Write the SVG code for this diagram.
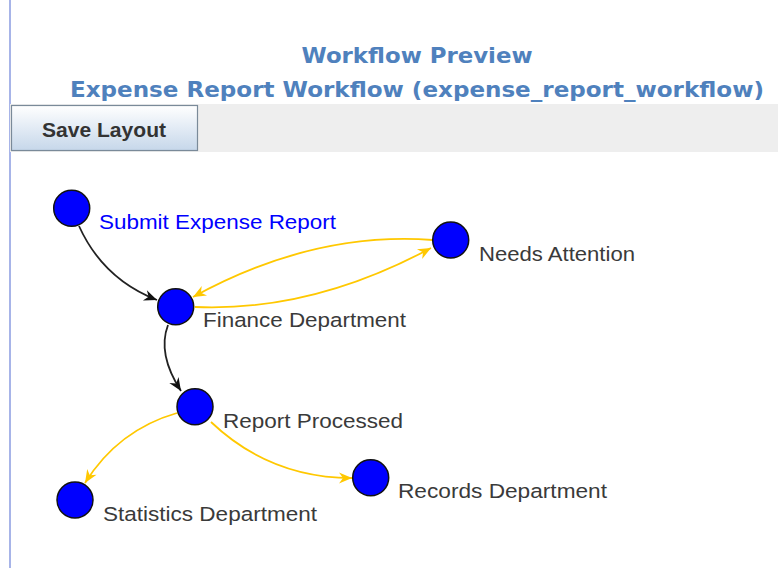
<svg xmlns="http://www.w3.org/2000/svg" width="778" height="568" viewBox="0 0 778 568">
  <defs>
    <linearGradient id="btnGrad" x1="0" y1="0" x2="0" y2="1">
      <stop offset="0" stop-color="#ffffff"/>
      <stop offset="1" stop-color="#c6d7ea"/>
    </linearGradient>
    <marker id="arrowBlack" markerUnits="userSpaceOnUse" markerWidth="14" markerHeight="12" refX="13" refY="5.5" orient="auto" overflow="visible">
      <path d="M0,0 L13,5.5 L0,11 L4,5.5 Z" fill="#111111"/>
    </marker>
    <marker id="arrowYellow" markerUnits="userSpaceOnUse" markerWidth="14" markerHeight="12" refX="13" refY="5.5" orient="auto" overflow="visible">
      <path d="M0,0 L13,5.5 L0,11 L4,5.5 Z" fill="#ffc800"/>
    </marker>
  </defs>
  <style>
    .title { font-family: "DejaVu Sans", "Liberation Sans", sans-serif; font-weight: bold; font-size: 20.5px; fill: #4f81bd; }
    .btn-text { font-family: "Liberation Sans", Arial, sans-serif; font-weight: bold; font-size: 20px; fill: #333333; }
    .node circle { fill: #0000ff; stroke: #111111; stroke-width: 1.5; }
    .label { font-family: "Liberation Sans", Arial, sans-serif; font-size: 20.5px; fill: #3a3a3a; }
    .label.start { fill: #0000ff; }
    .edge { fill: none; stroke-width: 1.8; }
    .edge.black { stroke: #222222; marker-end: url(#arrowBlack); }
    .edge.yellow { stroke: #ffc800; marker-end: url(#arrowYellow); }
  </style>

  <rect x="0" y="0" width="778" height="568" fill="#ffffff"/>
  <line x1="10" y1="0" x2="10" y2="568" stroke="#8a9be0" stroke-width="1.5"/>

  <g id="header">
    <text class="title" x="417" y="63" text-anchor="middle" textLength="231" lengthAdjust="spacingAndGlyphs">Workflow Preview</text>
    <text class="title" x="417" y="97" text-anchor="middle" textLength="694" lengthAdjust="spacingAndGlyphs">Expense Report Workflow (expense_report_workflow)</text>
  </g>

  <g id="toolbar">
    <rect x="10" y="104" width="768" height="48" fill="#eeeeee"/>
    <rect x="11.5" y="105.5" width="186" height="45" fill="url(#btnGrad)" stroke="#7a8a99" stroke-width="1.2"/>
    <text class="btn-text" x="104" y="137" text-anchor="middle" textLength="124" lengthAdjust="spacingAndGlyphs">Save Layout</text>
  </g>

  <g id="connectors">
    <path class="edge black" d="M79,226 Q103,279 157,300"/>
    <path class="edge black" d="M168,325 Q157,354 181,391"/>
    <path class="edge yellow" d="M433,240 Q313,231 193,297"/>
    <path class="edge yellow" d="M195,307 Q312,312 431,248"/>
    <path class="edge yellow" d="M177,413 Q118,430 85,483"/>
    <path class="edge yellow" d="M211,422 Q270,478 352,478"/>
  </g>

  <g id="node-submit" class="node">
    <circle cx="71.7" cy="208.3" r="18"/>
    <text class="label start" x="99" y="229" textLength="237" lengthAdjust="spacingAndGlyphs">Submit Expense Report</text>
  </g>
  <g id="node-finance" class="node">
    <circle cx="175.7" cy="306.7" r="18"/>
    <text class="label" x="203" y="327" textLength="203" lengthAdjust="spacingAndGlyphs">Finance Department</text>
  </g>
  <g id="node-needs" class="node">
    <circle cx="450.7" cy="240" r="18"/>
    <text class="label" x="479" y="261" textLength="156" lengthAdjust="spacingAndGlyphs">Needs Attention</text>
  </g>
  <g id="node-report" class="node">
    <circle cx="195" cy="406.7" r="18"/>
    <text class="label" x="223" y="428" textLength="180" lengthAdjust="spacingAndGlyphs">Report Processed</text>
  </g>
  <g id="node-statistics" class="node">
    <circle cx="75" cy="500" r="18"/>
    <text class="label" x="103" y="521" textLength="214" lengthAdjust="spacingAndGlyphs">Statistics Department</text>
  </g>
  <g id="node-records" class="node">
    <circle cx="370.7" cy="477.7" r="18"/>
    <text class="label" x="398" y="498" textLength="209" lengthAdjust="spacingAndGlyphs">Records Department</text>
  </g>
</svg>
